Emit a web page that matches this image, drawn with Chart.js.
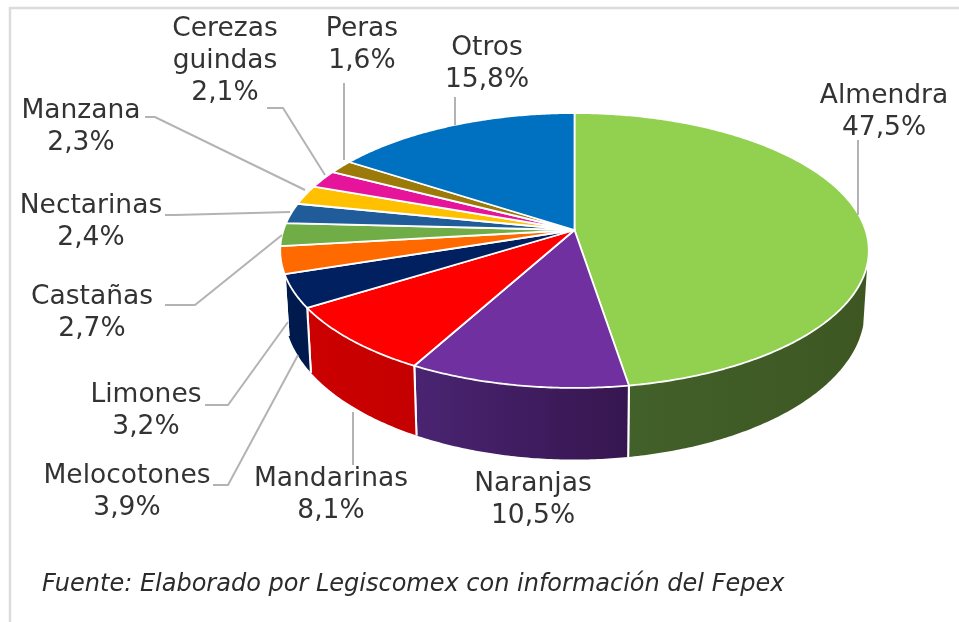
<!DOCTYPE html>
<html>
<head>
<meta charset="utf-8">
<script src="https://cdn.jsdelivr.net/npm/chart.js@4"></script>
<style>
  html, body { margin: 0; background: #fff; }
  canvas { display: block; }
</style>
</head>
<body>
<canvas id="chart" width="959" height="622"></canvas>
<script>
// ── Data ──
const categories = ['Almendra','Naranjas','Mandarinas','Melocotones','Limones','Castañas','Nectarinas','Manzana',['Cerezas','guindas'],'Peras','Otros'];
const shares     = [47.5,10.5,8.1,3.9,3.2,2.7,2.4,2.3,2.1,1.6,15.8];
const faceColors = ['#92D050','#7030A0','#FF0000','#002060','#FF6A00','#70AD47','#1F5C99','#FFC000','#E6149A','#9C7A0A','#0070C0'];
const wallLeft   = ['#42602A','#4A2472','#CC0000','#001A4D','#B34A00','#4E7A32','#16406B','#B38600','#A10E6B','#6D5507','#004F86'];
const wallRight  = ['#3E5722','#36164F','#C40000','#001A4D','#B34A00','#4E7A32','#16406B','#B38600','#A10E6B','#6D5507','#004F86'];
const footnote   = 'Fuente: Elaborado por Legiscomex con información del Fepex';

// label centres, one per category
const labelX = [884,533,331,127,146,92,91,81,225,362,487];
const labelY = [96,484,479,476,395,297,206,111,29,29,48];
const LINE_H = 32;

// leader lines, same order (Naranjas has none)
const leaders = [
  [[858,215],[858,140]],
  [],
  [[353,412],[353,465]],
  [[298,355],[228,485],[213,485]],
  [[288,322],[228,405],[205,405]],
  [[282,235],[195,305],[165,305]],
  [[290,212],[175,215],[165,215]],
  [[305,190],[155,117],[145,117]],
  [[325,175],[283,108],[267,108]],
  [[344,160],[344,83]],
  [[455,125],[455,97]]
];

// ── Perspective of the two discs (top face and base) ──
const topDisc  = { rx: 291, ry: 134.4, k: 0.149, dy: 0 };
const baseDisc = { rx: 287, ry: 146,   k: 0.149, dy: 58 };
// part of the wall that can be seen, in radians from 3 o'clock
const WALL_FROM = 0.25;
const WALL_TO   = 2.83;

function project(disc, apex, angle) {
  const X = Math.cos(angle), Y = Math.sin(angle);
  const w = 1 - disc.k * Y;
  return { x: apex.x + disc.rx * X / w, y: apex.y + disc.dy + disc.ry * Y / w };
}

function samples(start, end) {
  const n = Math.max(2, Math.ceil((end - start) / 0.01));
  return Array.from({ length: n + 1 }, (_, i) => start + (end - start) * i / n);
}

const pie3d = {
  id: 'pie3d',
  beforeDraw(chart) {
    const ctx = chart.ctx;
    ctx.save();
    ctx.fillStyle = '#fff';
    ctx.fillRect(0, 0, chart.width, chart.height);
    ctx.strokeStyle = '#dcdcdc';
    ctx.lineWidth = 2.5;
    ctx.beginPath();
    ctx.moveTo(10, 622); ctx.lineTo(10, 8); ctx.lineTo(959, 8);
    ctx.stroke();
    ctx.restore();
  },
  // the library's own angles are used, only the projection is replaced
  beforeDatasetDraw(chart, args) {
    const ctx = chart.ctx;
    const arcs = chart.getDatasetMeta(args.index).data;

    // walls first, only the part that faces the viewer
    arcs.forEach((arc, i) => {
      const start = Math.max(arc.startAngle, WALL_FROM);
      const end = Math.min(arc.endAngle, WALL_TO);
      if (end <= start) return;
      const pts = samples(start, end);
      const top = pts.map(a => project(topDisc, arc, a));
      const base = pts.map(a => project(baseDisc, arc, a));
      ctx.save();
      // angles run clockwise, so the last sample is the left end
      const grad = ctx.createLinearGradient(top[top.length - 1].x, 0, top[0].x, 0);
      grad.addColorStop(0, wallLeft[i]);
      grad.addColorStop(1, wallRight[i]);
      ctx.fillStyle = grad;
      ctx.beginPath();
      top.forEach((p, j) => j ? ctx.lineTo(p.x, p.y) : ctx.moveTo(p.x, p.y));
      base.slice().reverse().forEach(p => ctx.lineTo(p.x, p.y));
      ctx.closePath();
      ctx.fill();
      // white seam at the slice boundary
      ctx.strokeStyle = '#fff';
      ctx.lineWidth = 2;
      [[arc.startAngle, 0], [arc.endAngle, top.length - 1]].forEach(([a, j]) => {
        if (a < WALL_FROM || a >= WALL_TO) return;
        ctx.beginPath();
        ctx.moveTo(top[j].x, top[j].y);
        ctx.lineTo(base[j].x, base[j].y);
        ctx.stroke();
      });
      ctx.restore();
    });

    // top face
    arcs.forEach((arc, i) => {
      ctx.save();
      ctx.fillStyle = faceColors[i];
      ctx.strokeStyle = '#fff';
      ctx.lineWidth = 1.8;
      ctx.lineJoin = 'round';
      ctx.beginPath();
      ctx.moveTo(arc.x, arc.y);
      samples(arc.startAngle, arc.endAngle).forEach(a => {
        const p = project(topDisc, arc, a);
        ctx.lineTo(p.x, p.y);
      });
      ctx.closePath();
      ctx.fill();
      ctx.stroke();
      ctx.restore();
    });
    return false;
  },
  afterDraw(chart) {
    const ctx = chart.ctx;
    ctx.save();
    ctx.strokeStyle = '#b3b3b3';
    ctx.lineWidth = 2;
    leaders.forEach(path => {
      if (!path.length) return;
      ctx.beginPath();
      path.forEach(([x, y], j) => j ? ctx.lineTo(x, y) : ctx.moveTo(x, y));
      ctx.stroke();
    });

    ctx.fillStyle = '#333';
    ctx.font = '26.5px "DejaVu Sans"';
    ctx.textAlign = 'center';
    ctx.textBaseline = 'middle';
    categories.forEach((cat, i) => {
      const lines = [].concat(cat, shares[i].toFixed(1).replace('.', ',') + '%');
      lines.forEach((txt, j) => ctx.fillText(txt, labelX[i], labelY[i] + j * LINE_H));
    });

    ctx.fillStyle = '#2b2b2b';
    ctx.font = 'italic 24px "DejaVu Sans"';
    ctx.textAlign = 'left';
    ctx.fillText(footnote, 42, 585);
    ctx.restore();
  }
};

new Chart(document.getElementById('chart'), {
  type: 'pie',
  data: {
    labels: categories,
    datasets: [{ data: shares, backgroundColor: faceColors, borderWidth: 0 }]
  },
  options: {
    responsive: false,
    animation: false,
    layout: { padding: { left: 190, bottom: 162 } },
    plugins: { legend: { display: false }, tooltip: { enabled: false } }
  },
  plugins: [pie3d]
});
</script>
</body>
</html>
